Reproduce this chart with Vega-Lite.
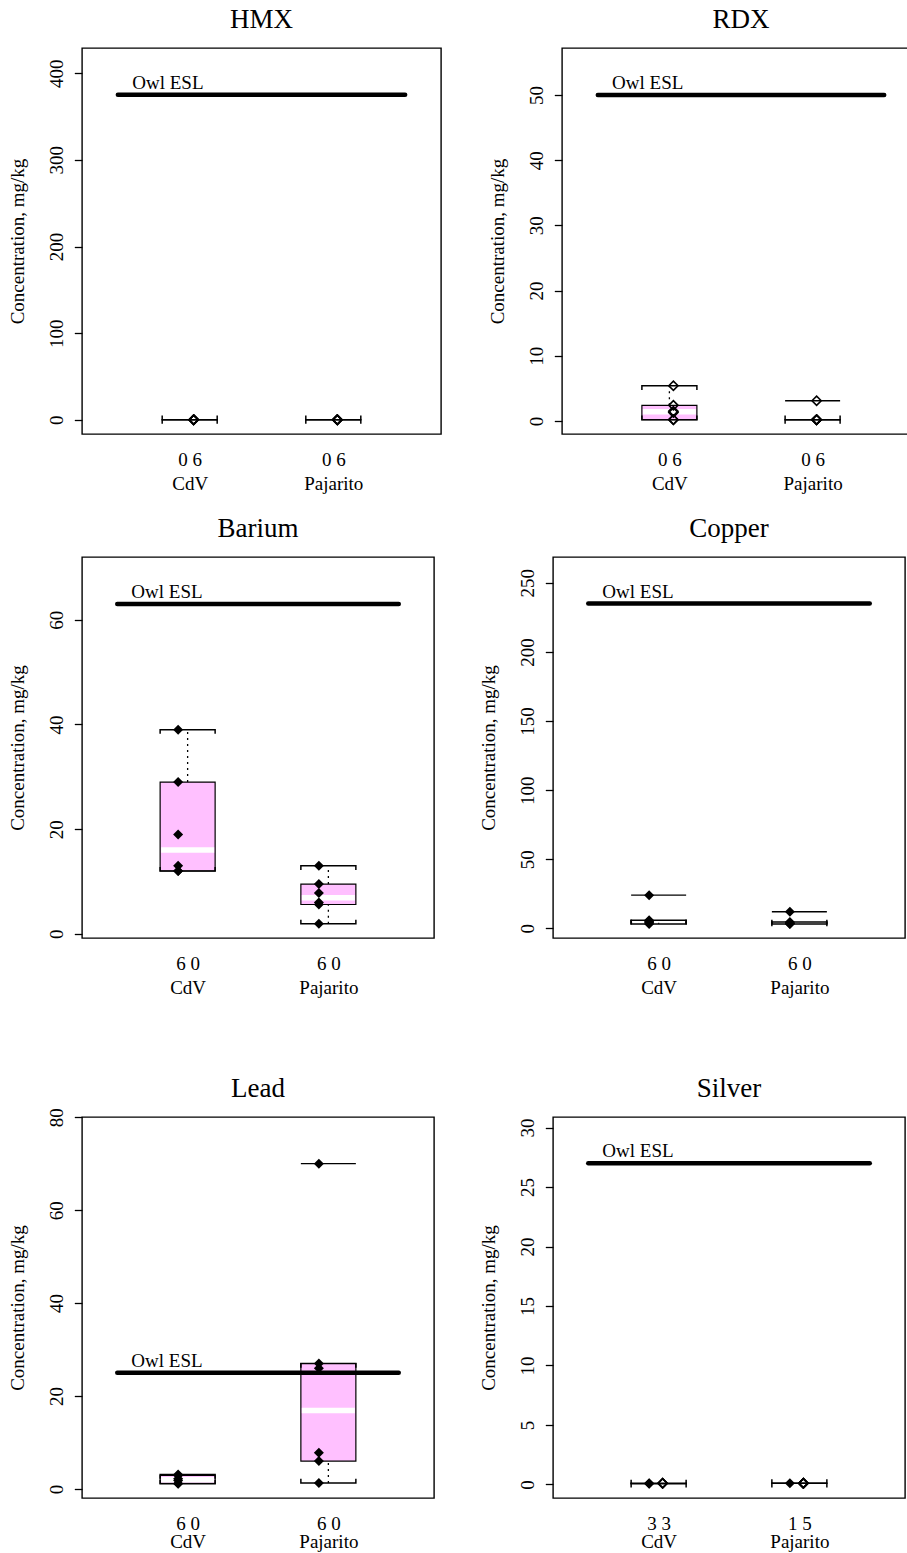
{
  "$schema": "https://vega.github.io/schema/vega-lite/v6.json",
  "background": "white",
  "padding": {"left": 7, "top": 5, "right": 0, "bottom": 0},
  "datasets": {
    "boxes": [
      {"panel": "HMX", "site": "CdV", "grp": 1, "lo": 0.2, "q1": 0.2, "med": 0.2, "q3": 0.2, "hi": 0.2},
      {"panel": "HMX", "site": "Pajarito", "grp": 2, "lo": 0.2, "q1": 0.2, "med": 0.2, "q3": 0.2, "hi": 0.2},
      {"panel": "RDX", "site": "CdV", "grp": 1, "lo": 0.2, "q1": 0.2, "med": 1.4, "q3": 2.4, "hi": 5.4},
      {"panel": "RDX", "site": "Pajarito", "grp": 2, "lo": 0.2, "q1": 0.2, "med": 0.2, "q3": 0.2, "hi": 0.2},
      {"panel": "Barium", "site": "CdV", "grp": 1, "lo": 12, "q1": 12, "med": 16, "q3": 29, "hi": 39},
      {"panel": "Barium", "site": "Pajarito", "grp": 2, "lo": 1.9, "q1": 5.6, "med": 6.9, "q3": 9.5, "hi": 13},
      {"panel": "Copper", "site": "CdV", "grp": 1, "lo": 3.2, "q1": 4.0, "med": 4.9, "q3": 5.8, "hi": 5.8},
      {"panel": "Copper", "site": "Pajarito", "grp": 2, "lo": 3.2, "q1": 3.3, "med": 3.65, "q3": 4.5, "hi": 4.5},
      {"panel": "Lead", "site": "CdV", "grp": 1, "lo": 1.1, "q1": 1.2, "med": 2.0, "q3": 2.9, "hi": 3.1},
      {"panel": "Lead", "site": "Pajarito", "grp": 2, "lo": 1.3, "q1": 6.0, "med": 16.9, "q3": 27, "hi": 27},
      {"panel": "Silver", "site": "CdV", "grp": 1, "lo": 0.05, "q1": 0.08, "med": 0.1, "q3": 0.1, "hi": 0.1},
      {"panel": "Silver", "site": "Pajarito", "grp": 2, "lo": 0.1, "q1": 0.1, "med": 0.1, "q3": 0.1, "hi": 0.1}
    ],
    "obs": [
      {"panel": "HMX", "site": "CdV", "grp": 1, "value": 0.2, "status": "nondetect", "outlier": false},
      {"panel": "HMX", "site": "CdV", "grp": 1, "value": 0.2, "status": "nondetect", "outlier": false},
      {"panel": "HMX", "site": "CdV", "grp": 1, "value": 0.2, "status": "nondetect", "outlier": false},
      {"panel": "HMX", "site": "CdV", "grp": 1, "value": 0.2, "status": "nondetect", "outlier": false},
      {"panel": "HMX", "site": "CdV", "grp": 1, "value": 0.2, "status": "nondetect", "outlier": false},
      {"panel": "HMX", "site": "CdV", "grp": 1, "value": 0.2, "status": "nondetect", "outlier": false},
      {"panel": "HMX", "site": "Pajarito", "grp": 2, "value": 0.2, "status": "nondetect", "outlier": false},
      {"panel": "HMX", "site": "Pajarito", "grp": 2, "value": 0.2, "status": "nondetect", "outlier": false},
      {"panel": "HMX", "site": "Pajarito", "grp": 2, "value": 0.2, "status": "nondetect", "outlier": false},
      {"panel": "HMX", "site": "Pajarito", "grp": 2, "value": 0.2, "status": "nondetect", "outlier": false},
      {"panel": "HMX", "site": "Pajarito", "grp": 2, "value": 0.2, "status": "nondetect", "outlier": false},
      {"panel": "HMX", "site": "Pajarito", "grp": 2, "value": 0.2, "status": "nondetect", "outlier": false},
      {"panel": "RDX", "site": "CdV", "grp": 1, "value": 5.4, "status": "nondetect", "outlier": false},
      {"panel": "RDX", "site": "CdV", "grp": 1, "value": 2.4, "status": "nondetect", "outlier": false},
      {"panel": "RDX", "site": "CdV", "grp": 1, "value": 1.5, "status": "nondetect", "outlier": false},
      {"panel": "RDX", "site": "CdV", "grp": 1, "value": 1.3, "status": "nondetect", "outlier": false},
      {"panel": "RDX", "site": "CdV", "grp": 1, "value": 0.2, "status": "nondetect", "outlier": false},
      {"panel": "RDX", "site": "CdV", "grp": 1, "value": 0.2, "status": "nondetect", "outlier": false},
      {"panel": "RDX", "site": "Pajarito", "grp": 2, "value": 3.1, "status": "nondetect", "outlier": true},
      {"panel": "RDX", "site": "Pajarito", "grp": 2, "value": 0.2, "status": "nondetect", "outlier": false},
      {"panel": "RDX", "site": "Pajarito", "grp": 2, "value": 0.2, "status": "nondetect", "outlier": false},
      {"panel": "RDX", "site": "Pajarito", "grp": 2, "value": 0.2, "status": "nondetect", "outlier": false},
      {"panel": "RDX", "site": "Pajarito", "grp": 2, "value": 0.2, "status": "nondetect", "outlier": false},
      {"panel": "RDX", "site": "Pajarito", "grp": 2, "value": 0.2, "status": "nondetect", "outlier": false},
      {"panel": "Barium", "site": "CdV", "grp": 1, "value": 39, "status": "detected", "outlier": false},
      {"panel": "Barium", "site": "CdV", "grp": 1, "value": 29, "status": "detected", "outlier": false},
      {"panel": "Barium", "site": "CdV", "grp": 1, "value": 19, "status": "detected", "outlier": false},
      {"panel": "Barium", "site": "CdV", "grp": 1, "value": 13, "status": "detected", "outlier": false},
      {"panel": "Barium", "site": "CdV", "grp": 1, "value": 12, "status": "detected", "outlier": false},
      {"panel": "Barium", "site": "CdV", "grp": 1, "value": 12, "status": "detected", "outlier": false},
      {"panel": "Barium", "site": "Pajarito", "grp": 2, "value": 13, "status": "detected", "outlier": false},
      {"panel": "Barium", "site": "Pajarito", "grp": 2, "value": 9.5, "status": "detected", "outlier": false},
      {"panel": "Barium", "site": "Pajarito", "grp": 2, "value": 7.8, "status": "detected", "outlier": false},
      {"panel": "Barium", "site": "Pajarito", "grp": 2, "value": 6.0, "status": "detected", "outlier": false},
      {"panel": "Barium", "site": "Pajarito", "grp": 2, "value": 5.6, "status": "detected", "outlier": false},
      {"panel": "Barium", "site": "Pajarito", "grp": 2, "value": 1.9, "status": "detected", "outlier": false},
      {"panel": "Copper", "site": "CdV", "grp": 1, "value": 24, "status": "detected", "outlier": true},
      {"panel": "Copper", "site": "CdV", "grp": 1, "value": 5.8, "status": "detected", "outlier": false},
      {"panel": "Copper", "site": "CdV", "grp": 1, "value": 5.2, "status": "detected", "outlier": false},
      {"panel": "Copper", "site": "CdV", "grp": 1, "value": 4.6, "status": "detected", "outlier": false},
      {"panel": "Copper", "site": "CdV", "grp": 1, "value": 4.0, "status": "detected", "outlier": false},
      {"panel": "Copper", "site": "CdV", "grp": 1, "value": 3.2, "status": "detected", "outlier": false},
      {"panel": "Copper", "site": "Pajarito", "grp": 2, "value": 12, "status": "detected", "outlier": true},
      {"panel": "Copper", "site": "Pajarito", "grp": 2, "value": 4.5, "status": "detected", "outlier": false},
      {"panel": "Copper", "site": "Pajarito", "grp": 2, "value": 3.8, "status": "detected", "outlier": false},
      {"panel": "Copper", "site": "Pajarito", "grp": 2, "value": 3.5, "status": "detected", "outlier": false},
      {"panel": "Copper", "site": "Pajarito", "grp": 2, "value": 3.3, "status": "detected", "outlier": false},
      {"panel": "Copper", "site": "Pajarito", "grp": 2, "value": 3.2, "status": "detected", "outlier": false},
      {"panel": "Lead", "site": "CdV", "grp": 1, "value": 3.1, "status": "detected", "outlier": false},
      {"panel": "Lead", "site": "CdV", "grp": 1, "value": 2.9, "status": "detected", "outlier": false},
      {"panel": "Lead", "site": "CdV", "grp": 1, "value": 2.2, "status": "detected", "outlier": false},
      {"panel": "Lead", "site": "CdV", "grp": 1, "value": 1.8, "status": "detected", "outlier": false},
      {"panel": "Lead", "site": "CdV", "grp": 1, "value": 1.2, "status": "detected", "outlier": false},
      {"panel": "Lead", "site": "CdV", "grp": 1, "value": 1.1, "status": "detected", "outlier": false},
      {"panel": "Lead", "site": "Pajarito", "grp": 2, "value": 70, "status": "detected", "outlier": true},
      {"panel": "Lead", "site": "Pajarito", "grp": 2, "value": 27, "status": "detected", "outlier": false},
      {"panel": "Lead", "site": "Pajarito", "grp": 2, "value": 26, "status": "detected", "outlier": false},
      {"panel": "Lead", "site": "Pajarito", "grp": 2, "value": 7.8, "status": "detected", "outlier": false},
      {"panel": "Lead", "site": "Pajarito", "grp": 2, "value": 6.0, "status": "detected", "outlier": false},
      {"panel": "Lead", "site": "Pajarito", "grp": 2, "value": 1.3, "status": "detected", "outlier": false},
      {"panel": "Silver", "site": "CdV", "grp": 1, "value": 0.1, "status": "detected", "outlier": false},
      {"panel": "Silver", "site": "CdV", "grp": 1, "value": 0.08, "status": "detected", "outlier": false},
      {"panel": "Silver", "site": "CdV", "grp": 1, "value": 0.05, "status": "detected", "outlier": false},
      {"panel": "Silver", "site": "CdV", "grp": 1, "value": 0.1, "status": "nondetect", "outlier": false},
      {"panel": "Silver", "site": "CdV", "grp": 1, "value": 0.1, "status": "nondetect", "outlier": false},
      {"panel": "Silver", "site": "CdV", "grp": 1, "value": 0.1, "status": "nondetect", "outlier": false},
      {"panel": "Silver", "site": "Pajarito", "grp": 2, "value": 0.1, "status": "detected", "outlier": false},
      {"panel": "Silver", "site": "Pajarito", "grp": 2, "value": 0.1, "status": "nondetect", "outlier": false},
      {"panel": "Silver", "site": "Pajarito", "grp": 2, "value": 0.1, "status": "nondetect", "outlier": false},
      {"panel": "Silver", "site": "Pajarito", "grp": 2, "value": 0.1, "status": "nondetect", "outlier": false},
      {"panel": "Silver", "site": "Pajarito", "grp": 2, "value": 0.1, "status": "nondetect", "outlier": false},
      {"panel": "Silver", "site": "Pajarito", "grp": 2, "value": 0.1, "status": "nondetect", "outlier": false}
    ]
  },
  "vconcat": [
    {
      "vconcat": [
        {
          "hconcat": [
            {
              "title": "HMX", "width": 359, "height": 386,
              "layer": [
                {"data": {"name": "boxes"}, "transform": [{"filter": "datum.panel == 'HMX'"}], "mark": {"type": "bar", "width": 55, "fill": "#FFC0FF", "stroke": "black", "strokeWidth": 1.2}, "encoding": {"x": {"field": "grp", "type": "quantitative", "title": null, "scale": {"domain": [0.285, 2.715], "nice": false, "zero": false}, "axis": {"values": [1, 2], "labelExpr": "datum.value == 1 ? ['0 6', 'CdV'] : ['0 6', 'Pajarito']"}}, "y": {"field": "q1", "type": "quantitative", "title": "Concentration, mg/kg", "scale": {"domain": [-16.3, 429.0], "nice": false, "zero": false}, "axis": {"values": [0, 100, 200, 300, 400]}}, "y2": {"field": "q3"}}},
                {"data": {"name": "boxes"}, "transform": [{"filter": "datum.panel == 'HMX'"}], "mark": {"type": "point", "shape": "M-1,0H1", "size": 2809, "filled": false, "stroke": "white", "strokeWidth": 5.5, "opacity": 1}, "encoding": {"x": {"field": "grp", "type": "quantitative", "title": null}, "y": {"field": "med", "type": "quantitative", "title": "Concentration, mg/kg"}}},
                {"data": {"name": "boxes"}, "transform": [{"filter": "datum.panel == 'HMX'"}], "mark": {"type": "rule", "color": "black", "strokeWidth": 1.3, "strokeDash": [2, 4]}, "encoding": {"x": {"field": "grp", "type": "quantitative", "title": null}, "y": {"field": "q3", "type": "quantitative", "title": "Concentration, mg/kg"}, "y2": {"field": "hi"}}},
                {"data": {"name": "boxes"}, "transform": [{"filter": "datum.panel == 'HMX'"}], "mark": {"type": "rule", "color": "black", "strokeWidth": 1.3, "strokeDash": [2, 4]}, "encoding": {"x": {"field": "grp", "type": "quantitative", "title": null}, "y": {"field": "lo", "type": "quantitative", "title": "Concentration, mg/kg"}, "y2": {"field": "q1"}}},
                {"data": {"name": "boxes"}, "transform": [{"filter": "datum.panel == 'HMX'"}], "mark": {"type": "point", "shape": "M-1,0.15V0H1V0.15", "size": 3025, "filled": false, "stroke": "black", "strokeWidth": 1.5, "opacity": 1}, "encoding": {"x": {"field": "grp", "type": "quantitative", "title": null}, "y": {"field": "hi", "type": "quantitative", "title": "Concentration, mg/kg"}}},
                {"data": {"name": "boxes"}, "transform": [{"filter": "datum.panel == 'HMX'"}], "mark": {"type": "point", "shape": "M-1,-0.15V0H1V-0.15", "size": 3025, "filled": false, "stroke": "black", "strokeWidth": 1.5, "opacity": 1}, "encoding": {"x": {"field": "grp", "type": "quantitative", "title": null}, "y": {"field": "lo", "type": "quantitative", "title": "Concentration, mg/kg"}}},
                {"data": {"name": "obs"}, "transform": [{"filter": "datum.panel == 'HMX' && datum.outlier"}], "mark": {"type": "point", "shape": "M-1,0H1", "size": 3025, "filled": false, "stroke": "black", "strokeWidth": 1.3, "opacity": 1}, "encoding": {"x": {"field": "grp", "type": "quantitative", "title": null}, "y": {"field": "value", "type": "quantitative", "title": "Concentration, mg/kg"}}},
                {"data": {"values": [{"limit": 375, "label": "Owl ESL"}]}, "mark": {"type": "rule", "color": "black", "strokeWidth": 4.5, "strokeCap": "round"}, "encoding": {"x": {"datum": 0.5, "type": "quantitative", "title": null}, "x2": {"datum": 2.5}, "y": {"field": "limit", "type": "quantitative", "title": "Concentration, mg/kg"}}},
                {"data": {"values": [{"limit": 375, "label": "Owl ESL"}]}, "mark": {"type": "text", "align": "left", "baseline": "alphabetic", "dy": -6, "fontSize": 19, "font": "Liberation Serif", "color": "black"}, "encoding": {"x": {"datum": 0.6, "type": "quantitative", "title": null}, "y": {"field": "limit", "type": "quantitative", "title": "Concentration, mg/kg"}, "text": {"field": "label"}}},
                {"data": {"name": "obs"}, "transform": [{"filter": "datum.panel == 'HMX' && datum.status == 'detected'"}], "mark": {"type": "point", "shape": "diamond", "filled": true, "size": 100, "color": "black", "opacity": 1, "xOffset": -9.5}, "encoding": {"x": {"field": "grp", "type": "quantitative", "title": null}, "y": {"field": "value", "type": "quantitative", "title": "Concentration, mg/kg"}}},
                {"data": {"name": "obs"}, "transform": [{"filter": "datum.panel == 'HMX' && datum.status == 'nondetect'"}], "mark": {"type": "point", "shape": "diamond", "filled": false, "size": 85, "stroke": "black", "strokeWidth": 1.6, "opacity": 1, "xOffset": 4}, "encoding": {"x": {"field": "grp", "type": "quantitative", "title": null}, "y": {"field": "value", "type": "quantitative", "title": "Concentration, mg/kg"}}}
              ]
            },
            {
              "title": "RDX", "width": 358, "height": 386,
              "layer": [
                {"data": {"name": "boxes"}, "transform": [{"filter": "datum.panel == 'RDX'"}], "mark": {"type": "bar", "width": 55, "fill": "#FFC0FF", "stroke": "black", "strokeWidth": 1.2}, "encoding": {"x": {"field": "grp", "type": "quantitative", "title": null, "scale": {"domain": [0.285, 2.715], "nice": false, "zero": false}, "axis": {"values": [1, 2], "labelExpr": "datum.value == 1 ? ['0 6', 'CdV'] : ['0 6', 'Pajarito']"}}, "y": {"field": "q1", "type": "quantitative", "title": "Concentration, mg/kg", "scale": {"domain": [-2.0, 57.2], "nice": false, "zero": false}, "axis": {"values": [0, 10, 20, 30, 40, 50]}}, "y2": {"field": "q3"}}},
                {"data": {"name": "boxes"}, "transform": [{"filter": "datum.panel == 'RDX'"}], "mark": {"type": "point", "shape": "M-1,0H1", "size": 2809, "filled": false, "stroke": "white", "strokeWidth": 5.5, "opacity": 1}, "encoding": {"x": {"field": "grp", "type": "quantitative", "title": null}, "y": {"field": "med", "type": "quantitative", "title": "Concentration, mg/kg"}}},
                {"data": {"name": "boxes"}, "transform": [{"filter": "datum.panel == 'RDX'"}], "mark": {"type": "rule", "color": "black", "strokeWidth": 1.3, "strokeDash": [2, 4]}, "encoding": {"x": {"field": "grp", "type": "quantitative", "title": null}, "y": {"field": "q3", "type": "quantitative", "title": "Concentration, mg/kg"}, "y2": {"field": "hi"}}},
                {"data": {"name": "boxes"}, "transform": [{"filter": "datum.panel == 'RDX'"}], "mark": {"type": "rule", "color": "black", "strokeWidth": 1.3, "strokeDash": [2, 4]}, "encoding": {"x": {"field": "grp", "type": "quantitative", "title": null}, "y": {"field": "lo", "type": "quantitative", "title": "Concentration, mg/kg"}, "y2": {"field": "q1"}}},
                {"data": {"name": "boxes"}, "transform": [{"filter": "datum.panel == 'RDX'"}], "mark": {"type": "point", "shape": "M-1,0.15V0H1V0.15", "size": 3025, "filled": false, "stroke": "black", "strokeWidth": 1.5, "opacity": 1}, "encoding": {"x": {"field": "grp", "type": "quantitative", "title": null}, "y": {"field": "hi", "type": "quantitative", "title": "Concentration, mg/kg"}}},
                {"data": {"name": "boxes"}, "transform": [{"filter": "datum.panel == 'RDX'"}], "mark": {"type": "point", "shape": "M-1,-0.15V0H1V-0.15", "size": 3025, "filled": false, "stroke": "black", "strokeWidth": 1.5, "opacity": 1}, "encoding": {"x": {"field": "grp", "type": "quantitative", "title": null}, "y": {"field": "lo", "type": "quantitative", "title": "Concentration, mg/kg"}}},
                {"data": {"name": "obs"}, "transform": [{"filter": "datum.panel == 'RDX' && datum.outlier"}], "mark": {"type": "point", "shape": "M-1,0H1", "size": 3025, "filled": false, "stroke": "black", "strokeWidth": 1.3, "opacity": 1}, "encoding": {"x": {"field": "grp", "type": "quantitative", "title": null}, "y": {"field": "value", "type": "quantitative", "title": "Concentration, mg/kg"}}},
                {"data": {"values": [{"limit": 50, "label": "Owl ESL"}]}, "mark": {"type": "rule", "color": "black", "strokeWidth": 4.5, "strokeCap": "round"}, "encoding": {"x": {"datum": 0.5, "type": "quantitative", "title": null}, "x2": {"datum": 2.5}, "y": {"field": "limit", "type": "quantitative", "title": "Concentration, mg/kg"}}},
                {"data": {"values": [{"limit": 50, "label": "Owl ESL"}]}, "mark": {"type": "text", "align": "left", "baseline": "alphabetic", "dy": -6, "fontSize": 19, "font": "Liberation Serif", "color": "black"}, "encoding": {"x": {"datum": 0.6, "type": "quantitative", "title": null}, "y": {"field": "limit", "type": "quantitative", "title": "Concentration, mg/kg"}, "text": {"field": "label"}}},
                {"data": {"name": "obs"}, "transform": [{"filter": "datum.panel == 'RDX' && datum.status == 'detected'"}], "mark": {"type": "point", "shape": "diamond", "filled": true, "size": 100, "color": "black", "opacity": 1, "xOffset": -9.5}, "encoding": {"x": {"field": "grp", "type": "quantitative", "title": null}, "y": {"field": "value", "type": "quantitative", "title": "Concentration, mg/kg"}}},
                {"data": {"name": "obs"}, "transform": [{"filter": "datum.panel == 'RDX' && datum.status == 'nondetect'"}], "mark": {"type": "point", "shape": "diamond", "filled": false, "size": 85, "stroke": "black", "strokeWidth": 1.6, "opacity": 1, "xOffset": 4}, "encoding": {"x": {"field": "grp", "type": "quantitative", "title": null}, "y": {"field": "value", "type": "quantitative", "title": "Concentration, mg/kg"}}}
              ]
            }
          ],
          "spacing": 45
        },
        {
          "hconcat": [
            {
              "title": "Barium", "width": 352, "height": 381,
              "layer": [
                {"data": {"name": "boxes"}, "transform": [{"filter": "datum.panel == 'Barium'"}], "mark": {"type": "bar", "width": 55, "fill": "#FFC0FF", "stroke": "black", "strokeWidth": 1.2}, "encoding": {"x": {"field": "grp", "type": "quantitative", "title": null, "scale": {"domain": [0.285, 2.715], "nice": false, "zero": false}, "axis": {"values": [1, 2], "labelExpr": "datum.value == 1 ? ['6 0', 'CdV'] : ['6 0', 'Pajarito']"}}, "y": {"field": "q1", "type": "quantitative", "title": "Concentration, mg/kg", "scale": {"domain": [-0.8, 72.0], "nice": false, "zero": false}, "axis": {"values": [0, 20, 40, 60]}}, "y2": {"field": "q3"}}},
                {"data": {"name": "boxes"}, "transform": [{"filter": "datum.panel == 'Barium'"}], "mark": {"type": "point", "shape": "M-1,0H1", "size": 2809, "filled": false, "stroke": "white", "strokeWidth": 5.5, "opacity": 1}, "encoding": {"x": {"field": "grp", "type": "quantitative", "title": null}, "y": {"field": "med", "type": "quantitative", "title": "Concentration, mg/kg"}}},
                {"data": {"name": "boxes"}, "transform": [{"filter": "datum.panel == 'Barium'"}], "mark": {"type": "rule", "color": "black", "strokeWidth": 1.3, "strokeDash": [2, 4]}, "encoding": {"x": {"field": "grp", "type": "quantitative", "title": null}, "y": {"field": "q3", "type": "quantitative", "title": "Concentration, mg/kg"}, "y2": {"field": "hi"}}},
                {"data": {"name": "boxes"}, "transform": [{"filter": "datum.panel == 'Barium'"}], "mark": {"type": "rule", "color": "black", "strokeWidth": 1.3, "strokeDash": [2, 4]}, "encoding": {"x": {"field": "grp", "type": "quantitative", "title": null}, "y": {"field": "lo", "type": "quantitative", "title": "Concentration, mg/kg"}, "y2": {"field": "q1"}}},
                {"data": {"name": "boxes"}, "transform": [{"filter": "datum.panel == 'Barium'"}], "mark": {"type": "point", "shape": "M-1,0.15V0H1V0.15", "size": 3025, "filled": false, "stroke": "black", "strokeWidth": 1.5, "opacity": 1}, "encoding": {"x": {"field": "grp", "type": "quantitative", "title": null}, "y": {"field": "hi", "type": "quantitative", "title": "Concentration, mg/kg"}}},
                {"data": {"name": "boxes"}, "transform": [{"filter": "datum.panel == 'Barium'"}], "mark": {"type": "point", "shape": "M-1,-0.15V0H1V-0.15", "size": 3025, "filled": false, "stroke": "black", "strokeWidth": 1.5, "opacity": 1}, "encoding": {"x": {"field": "grp", "type": "quantitative", "title": null}, "y": {"field": "lo", "type": "quantitative", "title": "Concentration, mg/kg"}}},
                {"data": {"name": "obs"}, "transform": [{"filter": "datum.panel == 'Barium' && datum.outlier"}], "mark": {"type": "point", "shape": "M-1,0H1", "size": 3025, "filled": false, "stroke": "black", "strokeWidth": 1.3, "opacity": 1}, "encoding": {"x": {"field": "grp", "type": "quantitative", "title": null}, "y": {"field": "value", "type": "quantitative", "title": "Concentration, mg/kg"}}},
                {"data": {"values": [{"limit": 63, "label": "Owl ESL"}]}, "mark": {"type": "rule", "color": "black", "strokeWidth": 4.5, "strokeCap": "round"}, "encoding": {"x": {"datum": 0.5, "type": "quantitative", "title": null}, "x2": {"datum": 2.5}, "y": {"field": "limit", "type": "quantitative", "title": "Concentration, mg/kg"}}},
                {"data": {"values": [{"limit": 63, "label": "Owl ESL"}]}, "mark": {"type": "text", "align": "left", "baseline": "alphabetic", "dy": -6, "fontSize": 19, "font": "Liberation Serif", "color": "black"}, "encoding": {"x": {"datum": 0.6, "type": "quantitative", "title": null}, "y": {"field": "limit", "type": "quantitative", "title": "Concentration, mg/kg"}, "text": {"field": "label"}}},
                {"data": {"name": "obs"}, "transform": [{"filter": "datum.panel == 'Barium' && datum.status == 'detected'"}], "mark": {"type": "point", "shape": "diamond", "filled": true, "size": 100, "color": "black", "opacity": 1, "xOffset": -9.5}, "encoding": {"x": {"field": "grp", "type": "quantitative", "title": null}, "y": {"field": "value", "type": "quantitative", "title": "Concentration, mg/kg"}}},
                {"data": {"name": "obs"}, "transform": [{"filter": "datum.panel == 'Barium' && datum.status == 'nondetect'"}], "mark": {"type": "point", "shape": "diamond", "filled": false, "size": 85, "stroke": "black", "strokeWidth": 1.6, "opacity": 1, "xOffset": 4}, "encoding": {"x": {"field": "grp", "type": "quantitative", "title": null}, "y": {"field": "value", "type": "quantitative", "title": "Concentration, mg/kg"}}}
              ]
            },
            {
              "title": "Copper", "width": 352, "height": 381,
              "layer": [
                {"data": {"name": "boxes"}, "transform": [{"filter": "datum.panel == 'Copper'"}], "mark": {"type": "bar", "width": 55, "fill": "#FFC0FF", "stroke": "black", "strokeWidth": 1.2}, "encoding": {"x": {"field": "grp", "type": "quantitative", "title": null, "scale": {"domain": [0.285, 2.715], "nice": false, "zero": false}, "axis": {"values": [1, 2], "labelExpr": "datum.value == 1 ? ['6 0', 'CdV'] : ['6 0', 'Pajarito']"}}, "y": {"field": "q1", "type": "quantitative", "title": "Concentration, mg/kg", "scale": {"domain": [-7.0, 268.7], "nice": false, "zero": false}, "axis": {"values": [0, 50, 100, 150, 200, 250]}}, "y2": {"field": "q3"}}},
                {"data": {"name": "boxes"}, "transform": [{"filter": "datum.panel == 'Copper'"}], "mark": {"type": "point", "shape": "M-1,0H1", "size": 2809, "filled": false, "stroke": "white", "strokeWidth": 5.5, "opacity": 1}, "encoding": {"x": {"field": "grp", "type": "quantitative", "title": null}, "y": {"field": "med", "type": "quantitative", "title": "Concentration, mg/kg"}}},
                {"data": {"name": "boxes"}, "transform": [{"filter": "datum.panel == 'Copper'"}], "mark": {"type": "rule", "color": "black", "strokeWidth": 1.3, "strokeDash": [2, 4]}, "encoding": {"x": {"field": "grp", "type": "quantitative", "title": null}, "y": {"field": "q3", "type": "quantitative", "title": "Concentration, mg/kg"}, "y2": {"field": "hi"}}},
                {"data": {"name": "boxes"}, "transform": [{"filter": "datum.panel == 'Copper'"}], "mark": {"type": "rule", "color": "black", "strokeWidth": 1.3, "strokeDash": [2, 4]}, "encoding": {"x": {"field": "grp", "type": "quantitative", "title": null}, "y": {"field": "lo", "type": "quantitative", "title": "Concentration, mg/kg"}, "y2": {"field": "q1"}}},
                {"data": {"name": "boxes"}, "transform": [{"filter": "datum.panel == 'Copper'"}], "mark": {"type": "point", "shape": "M-1,0.15V0H1V0.15", "size": 3025, "filled": false, "stroke": "black", "strokeWidth": 1.5, "opacity": 1}, "encoding": {"x": {"field": "grp", "type": "quantitative", "title": null}, "y": {"field": "hi", "type": "quantitative", "title": "Concentration, mg/kg"}}},
                {"data": {"name": "boxes"}, "transform": [{"filter": "datum.panel == 'Copper'"}], "mark": {"type": "point", "shape": "M-1,-0.15V0H1V-0.15", "size": 3025, "filled": false, "stroke": "black", "strokeWidth": 1.5, "opacity": 1}, "encoding": {"x": {"field": "grp", "type": "quantitative", "title": null}, "y": {"field": "lo", "type": "quantitative", "title": "Concentration, mg/kg"}}},
                {"data": {"name": "obs"}, "transform": [{"filter": "datum.panel == 'Copper' && datum.outlier"}], "mark": {"type": "point", "shape": "M-1,0H1", "size": 3025, "filled": false, "stroke": "black", "strokeWidth": 1.3, "opacity": 1}, "encoding": {"x": {"field": "grp", "type": "quantitative", "title": null}, "y": {"field": "value", "type": "quantitative", "title": "Concentration, mg/kg"}}},
                {"data": {"values": [{"limit": 235, "label": "Owl ESL"}]}, "mark": {"type": "rule", "color": "black", "strokeWidth": 4.5, "strokeCap": "round"}, "encoding": {"x": {"datum": 0.5, "type": "quantitative", "title": null}, "x2": {"datum": 2.5}, "y": {"field": "limit", "type": "quantitative", "title": "Concentration, mg/kg"}}},
                {"data": {"values": [{"limit": 235, "label": "Owl ESL"}]}, "mark": {"type": "text", "align": "left", "baseline": "alphabetic", "dy": -6, "fontSize": 19, "font": "Liberation Serif", "color": "black"}, "encoding": {"x": {"datum": 0.6, "type": "quantitative", "title": null}, "y": {"field": "limit", "type": "quantitative", "title": "Concentration, mg/kg"}, "text": {"field": "label"}}},
                {"data": {"name": "obs"}, "transform": [{"filter": "datum.panel == 'Copper' && datum.status == 'detected'"}], "mark": {"type": "point", "shape": "diamond", "filled": true, "size": 100, "color": "black", "opacity": 1, "xOffset": -9.5}, "encoding": {"x": {"field": "grp", "type": "quantitative", "title": null}, "y": {"field": "value", "type": "quantitative", "title": "Concentration, mg/kg"}}},
                {"data": {"name": "obs"}, "transform": [{"filter": "datum.panel == 'Copper' && datum.status == 'nondetect'"}], "mark": {"type": "point", "shape": "diamond", "filled": false, "size": 85, "stroke": "black", "strokeWidth": 1.6, "opacity": 1, "xOffset": 4}, "encoding": {"x": {"field": "grp", "type": "quantitative", "title": null}, "y": {"field": "value", "type": "quantitative", "title": "Concentration, mg/kg"}}}
              ]
            }
          ],
          "spacing": 43
        }
      ],
      "spacing": 20
    },
    {
      "hconcat": [
        {
          "title": {"text": "Lead", "offset": 5},
          "width": 352, "height": 381,
          "layer": [
            {"data": {"name": "boxes"}, "transform": [{"filter": "datum.panel == 'Lead'"}], "mark": {"type": "bar", "width": 55, "fill": "#FFC0FF", "stroke": "black", "strokeWidth": 1.2}, "encoding": {"x": {"field": "grp", "type": "quantitative", "title": null, "scale": {"domain": [0.285, 2.715], "nice": false, "zero": false}, "axis": {"values": [1, 2], "labelLineHeight": 18, "labelExpr": "datum.value == 1 ? ['6 0', 'CdV'] : ['6 0', 'Pajarito']"}}, "y": {"field": "q1", "type": "quantitative", "title": "Concentration, mg/kg", "scale": {"domain": [-1.94, 80.04], "nice": false, "zero": false}, "axis": {"values": [0, 20, 40, 60, 80]}}, "y2": {"field": "q3"}}},
            {"data": {"name": "boxes"}, "transform": [{"filter": "datum.panel == 'Lead'"}], "mark": {"type": "point", "shape": "M-1,0H1", "size": 2809, "filled": false, "stroke": "white", "strokeWidth": 5.5, "opacity": 1}, "encoding": {"x": {"field": "grp", "type": "quantitative", "title": null}, "y": {"field": "med", "type": "quantitative", "title": "Concentration, mg/kg"}}},
            {"data": {"name": "boxes"}, "transform": [{"filter": "datum.panel == 'Lead'"}], "mark": {"type": "rule", "color": "black", "strokeWidth": 1.3, "strokeDash": [2, 4]}, "encoding": {"x": {"field": "grp", "type": "quantitative", "title": null}, "y": {"field": "q3", "type": "quantitative", "title": "Concentration, mg/kg"}, "y2": {"field": "hi"}}},
            {"data": {"name": "boxes"}, "transform": [{"filter": "datum.panel == 'Lead'"}], "mark": {"type": "rule", "color": "black", "strokeWidth": 1.3, "strokeDash": [2, 4]}, "encoding": {"x": {"field": "grp", "type": "quantitative", "title": null}, "y": {"field": "lo", "type": "quantitative", "title": "Concentration, mg/kg"}, "y2": {"field": "q1"}}},
            {"data": {"name": "boxes"}, "transform": [{"filter": "datum.panel == 'Lead'"}], "mark": {"type": "point", "shape": "M-1,0.15V0H1V0.15", "size": 3025, "filled": false, "stroke": "black", "strokeWidth": 1.5, "opacity": 1}, "encoding": {"x": {"field": "grp", "type": "quantitative", "title": null}, "y": {"field": "hi", "type": "quantitative", "title": "Concentration, mg/kg"}}},
            {"data": {"name": "boxes"}, "transform": [{"filter": "datum.panel == 'Lead'"}], "mark": {"type": "point", "shape": "M-1,-0.15V0H1V-0.15", "size": 3025, "filled": false, "stroke": "black", "strokeWidth": 1.5, "opacity": 1}, "encoding": {"x": {"field": "grp", "type": "quantitative", "title": null}, "y": {"field": "lo", "type": "quantitative", "title": "Concentration, mg/kg"}}},
            {"data": {"name": "obs"}, "transform": [{"filter": "datum.panel == 'Lead' && datum.outlier"}], "mark": {"type": "point", "shape": "M-1,0H1", "size": 3025, "filled": false, "stroke": "black", "strokeWidth": 1.3, "opacity": 1}, "encoding": {"x": {"field": "grp", "type": "quantitative", "title": null}, "y": {"field": "value", "type": "quantitative", "title": "Concentration, mg/kg"}}},
            {"data": {"values": [{"limit": 25, "label": "Owl ESL"}]}, "mark": {"type": "rule", "color": "black", "strokeWidth": 4.5, "strokeCap": "round"}, "encoding": {"x": {"datum": 0.5, "type": "quantitative", "title": null}, "x2": {"datum": 2.5}, "y": {"field": "limit", "type": "quantitative", "title": "Concentration, mg/kg"}}},
            {"data": {"values": [{"limit": 25, "label": "Owl ESL"}]}, "mark": {"type": "text", "align": "left", "baseline": "alphabetic", "dy": -6, "fontSize": 19, "font": "Liberation Serif", "color": "black"}, "encoding": {"x": {"datum": 0.6, "type": "quantitative", "title": null}, "y": {"field": "limit", "type": "quantitative", "title": "Concentration, mg/kg"}, "text": {"field": "label"}}},
            {"data": {"name": "obs"}, "transform": [{"filter": "datum.panel == 'Lead' && datum.status == 'detected'"}], "mark": {"type": "point", "shape": "diamond", "filled": true, "size": 100, "color": "black", "opacity": 1, "xOffset": -9.5}, "encoding": {"x": {"field": "grp", "type": "quantitative", "title": null}, "y": {"field": "value", "type": "quantitative", "title": "Concentration, mg/kg"}}},
            {"data": {"name": "obs"}, "transform": [{"filter": "datum.panel == 'Lead' && datum.status == 'nondetect'"}], "mark": {"type": "point", "shape": "diamond", "filled": false, "size": 85, "stroke": "black", "strokeWidth": 1.6, "opacity": 1, "xOffset": 4}, "encoding": {"x": {"field": "grp", "type": "quantitative", "title": null}, "y": {"field": "value", "type": "quantitative", "title": "Concentration, mg/kg"}}}
          ]
        },
        {
          "title": "Silver", "width": 352, "height": 381,
          "layer": [
            {"data": {"name": "boxes"}, "transform": [{"filter": "datum.panel == 'Silver'"}], "mark": {"type": "bar", "width": 55, "fill": "#FFC0FF", "stroke": "black", "strokeWidth": 1.2}, "encoding": {"x": {"field": "grp", "type": "quantitative", "title": null, "scale": {"domain": [0.285, 2.715], "nice": false, "zero": false}, "axis": {"values": [1, 2], "labelLineHeight": 18, "labelExpr": "datum.value == 1 ? ['3 3', 'CdV'] : ['1 5', 'Pajarito']"}}, "y": {"field": "q1", "type": "quantitative", "title": "Concentration, mg/kg", "scale": {"domain": [-1.14, 30.89], "nice": false, "zero": false}, "axis": {"values": [0, 5, 10, 15, 20, 25, 30]}}, "y2": {"field": "q3"}}},
            {"data": {"name": "boxes"}, "transform": [{"filter": "datum.panel == 'Silver'"}], "mark": {"type": "point", "shape": "M-1,0H1", "size": 2809, "filled": false, "stroke": "white", "strokeWidth": 5.5, "opacity": 1}, "encoding": {"x": {"field": "grp", "type": "quantitative", "title": null}, "y": {"field": "med", "type": "quantitative", "title": "Concentration, mg/kg"}}},
            {"data": {"name": "boxes"}, "transform": [{"filter": "datum.panel == 'Silver'"}], "mark": {"type": "rule", "color": "black", "strokeWidth": 1.3, "strokeDash": [2, 4]}, "encoding": {"x": {"field": "grp", "type": "quantitative", "title": null}, "y": {"field": "q3", "type": "quantitative", "title": "Concentration, mg/kg"}, "y2": {"field": "hi"}}},
            {"data": {"name": "boxes"}, "transform": [{"filter": "datum.panel == 'Silver'"}], "mark": {"type": "rule", "color": "black", "strokeWidth": 1.3, "strokeDash": [2, 4]}, "encoding": {"x": {"field": "grp", "type": "quantitative", "title": null}, "y": {"field": "lo", "type": "quantitative", "title": "Concentration, mg/kg"}, "y2": {"field": "q1"}}},
            {"data": {"name": "boxes"}, "transform": [{"filter": "datum.panel == 'Silver'"}], "mark": {"type": "point", "shape": "M-1,0.15V0H1V0.15", "size": 3025, "filled": false, "stroke": "black", "strokeWidth": 1.5, "opacity": 1}, "encoding": {"x": {"field": "grp", "type": "quantitative", "title": null}, "y": {"field": "hi", "type": "quantitative", "title": "Concentration, mg/kg"}}},
            {"data": {"name": "boxes"}, "transform": [{"filter": "datum.panel == 'Silver'"}], "mark": {"type": "point", "shape": "M-1,-0.15V0H1V-0.15", "size": 3025, "filled": false, "stroke": "black", "strokeWidth": 1.5, "opacity": 1}, "encoding": {"x": {"field": "grp", "type": "quantitative", "title": null}, "y": {"field": "lo", "type": "quantitative", "title": "Concentration, mg/kg"}}},
            {"data": {"name": "obs"}, "transform": [{"filter": "datum.panel == 'Silver' && datum.outlier"}], "mark": {"type": "point", "shape": "M-1,0H1", "size": 3025, "filled": false, "stroke": "black", "strokeWidth": 1.3, "opacity": 1}, "encoding": {"x": {"field": "grp", "type": "quantitative", "title": null}, "y": {"field": "value", "type": "quantitative", "title": "Concentration, mg/kg"}}},
            {"data": {"values": [{"limit": 27, "label": "Owl ESL"}]}, "mark": {"type": "rule", "color": "black", "strokeWidth": 4.5, "strokeCap": "round"}, "encoding": {"x": {"datum": 0.5, "type": "quantitative", "title": null}, "x2": {"datum": 2.5}, "y": {"field": "limit", "type": "quantitative", "title": "Concentration, mg/kg"}}},
            {"data": {"values": [{"limit": 27, "label": "Owl ESL"}]}, "mark": {"type": "text", "align": "left", "baseline": "alphabetic", "dy": -6, "fontSize": 19, "font": "Liberation Serif", "color": "black"}, "encoding": {"x": {"datum": 0.6, "type": "quantitative", "title": null}, "y": {"field": "limit", "type": "quantitative", "title": "Concentration, mg/kg"}, "text": {"field": "label"}}},
            {"data": {"name": "obs"}, "transform": [{"filter": "datum.panel == 'Silver' && datum.status == 'detected'"}], "mark": {"type": "point", "shape": "diamond", "filled": true, "size": 100, "color": "black", "opacity": 1, "xOffset": -9.5}, "encoding": {"x": {"field": "grp", "type": "quantitative", "title": null}, "y": {"field": "value", "type": "quantitative", "title": "Concentration, mg/kg"}}},
            {"data": {"name": "obs"}, "transform": [{"filter": "datum.panel == 'Silver' && datum.status == 'nondetect'"}], "mark": {"type": "point", "shape": "diamond", "filled": false, "size": 85, "stroke": "black", "strokeWidth": 1.6, "opacity": 1, "xOffset": 4}, "encoding": {"x": {"field": "grp", "type": "quantitative", "title": null}, "y": {"field": "value", "type": "quantitative", "title": "Concentration, mg/kg"}}}
          ]
        }
      ],
      "spacing": 43
    }
  ],
  "spacing": 75,
  "config": {
    "font": "Liberation Serif",
    "view": {"stroke": "black", "strokeWidth": 1.4},
    "axis": {"grid": false, "domain": false, "labelFont": "Liberation Serif", "titleFont": "Liberation Serif", "labelFontSize": 19, "titleFontSize": 19, "titleFontWeight": "normal", "labelColor": "black", "titleColor": "black", "tickColor": "black", "labelOverlap": false},
    "axisY": {"labelAngle": -90, "labelAlign": "center", "labelBaseline": "bottom", "labelPadding": 8, "tickSize": 7.7, "tickWidth": 1.3, "titlePadding": 20},
    "axisX": {"ticks": false, "tickSize": 0, "labelPadding": 16, "labelBaseline": "top", "labelLineHeight": 24, "labelFlush": false},
    "title": {"font": "Liberation Serif", "fontSize": 27, "fontWeight": "normal", "color": "black", "offset": 14}
  }
}
